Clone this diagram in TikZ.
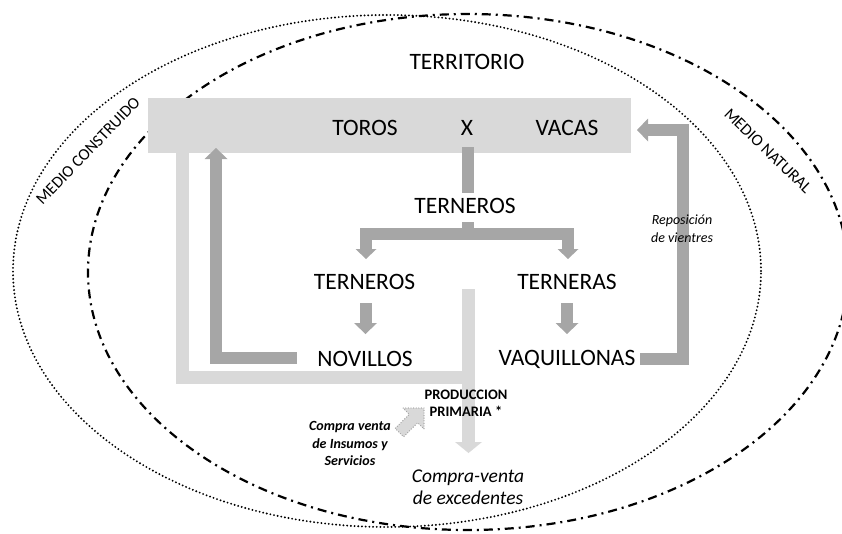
\documentclass[tikz,border=0pt]{standalone}
\usepackage{fontspec}
\setmainfont{Carlito}
\usetikzlibrary{arrows.meta}
\definecolor{boxgray}{HTML}{D9D9D9}
\definecolor{arrgray}{HTML}{A6A6A6}
\begin{document}
\begin{tikzpicture}[x=1pt,y=-1pt,
  big/.style={font=\fontsize{23.5}{28}\selectfont, inner sep=0pt},
  med/.style={font=\fontsize{16.5}{20}\selectfont, inner sep=0pt},
  small/.style={font=\fontsize{14}{17.5}\selectfont, inner sep=0pt, align=center},
  dline/.style={draw=arrgray, line width=12pt},
  darr/.style={dline, -{Triangle[length=11pt,width=23pt,line width=0pt]}},
  dboth/.style={dline, {Triangle[length=10pt,width=21pt,line width=0pt]}-{Triangle[length=10pt,width=21pt,line width=0pt]}},
  lline/.style={draw=boxgray, line width=13pt},
  larr/.style={lline, -{Triangle[length=11pt,width=27pt,line width=0pt]}},
  dotline/.style={line width=2.1pt, line cap=round, dash pattern=on 0pt off 3.7pt},
  dashdot/.style={line width=2.2pt, dash pattern=on 9pt off 5pt on 2pt off 5pt}
]
\useasboundingbox (0,0) rectangle (842,533);
% environment ellipses
\draw[dotline] (387,271) ellipse [x radius=374pt, y radius=256pt];
\draw[dashdot] (468,272) ellipse [x radius=380pt, y radius=258pt];

% main box
\node[fill=boxgray, minimum width=483pt, minimum height=55pt, inner sep=0pt] (box) at (389.5,125.5) {};

% light gray flow
\coordinate (l1) at (182,153);
\coordinate (l2) at (182,377.5);
\coordinate (l3) at (475,377.5);
\coordinate (l4) at (468.5,289);
\coordinate (l5) at (468.5,453);
\draw[lline] (l1) -- (l2) -- (l3);
\draw[larr] (l4) -- (l5);

% dark gray flows
\coordinate (x1) at (468,147);
\coordinate (x2) at (468,193);
\draw[dline] (x1) -- (x2);
\coordinate (t0) at (468,222);
\coordinate (tm) at (468,234);
\coordinate (tl) at (366,234);
\coordinate (tr) at (568,234);
\coordinate (tlb) at (366,259);
\coordinate (trb) at (568,259);
\draw[dline] (t0) -- (tm);
\draw[dboth] (tlb) -- (tl) -- (tr) -- (trb);

\coordinate (a1) at (365.5,303);
\coordinate (a2) at (365.5,334);
\draw[darr] (a1) -- (a2);
\coordinate (b1) at (567,303);
\coordinate (b2) at (567,334);
\draw[darr] (b1) -- (b2);

\coordinate (n1) at (297,358);
\coordinate (n2) at (216,358);
\coordinate (n3) at (216,148);
\draw[darr] (n1) -- (n2) -- (n3);

\coordinate (v1) at (640,359);
\coordinate (v2) at (683,359);
\coordinate (v3) at (683,130);
\coordinate (v4) at (637,130);
\draw[darr] (v1) -- (v2) -- (v3) -- (v4);

% small dotted arrow
\draw[fill=boxgray, draw=arrgray, line width=1.4pt, line cap=round, dash pattern=on 0pt off 2.6pt]
  (424,408) -- (403,408) -- (409.3,414.3) -- (395.2,428.4) -- (403.6,436.8) -- (417.7,422.7) -- (424,429) -- cycle;

% texts
\node[med, rotate=46] (construido) at (88,151) {MEDIO CONSTRUIDO};
\node[med, rotate=-44] (natural) at (768,151) {MEDIO NATURAL};
\node[big] (territorio) at (467,62) {TERRITORIO};
\node[big] (toros) at (365,128) {TOROS};
\node[big] (x) at (467,128) {X};
\node[big] (vacas) at (567,128) {VACAS};
\node[big] (ternerosA) at (465,206) {TERNEROS};
\node[big] (terneros) at (364.5,282) {TERNEROS};
\node[big] (terneras) at (567,282) {TERNERAS};
\node[big] (novillos) at (365,359) {NOVILLOS};
\node[big] (vaquillonas) at (567,359) {VAQUILLONAS};

\node[small, font=\fontsize{14}{18}\selectfont\itshape] (repos) at (682,229) {Reposición\\de vientres};
\node[small, font=\fontsize{14.5}{17}\selectfont\bfseries] (prod) at (466,403.5) {PRODUCCION\\PRIMARIA *};
\node[small, font=\fontsize{14}{17.5}\selectfont\bfseries\itshape] (insumos) at (350,443.5) {Compra venta\\de Insumos y\\Servicios};
\node[small, font=\fontsize{19.5}{22}\selectfont\itshape] (exced) at (468,487.5) {Compra-venta\\de excedentes};
\end{tikzpicture}
\end{document}
